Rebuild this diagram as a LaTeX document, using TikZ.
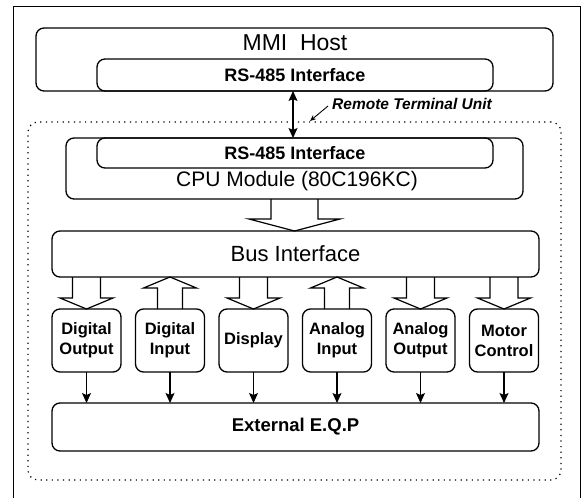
\documentclass[tikz,border=0pt]{standalone}
\usepackage{fontspec}
\setmainfont{Liberation Sans}
\usetikzlibrary{
  positioning,
  arrows.meta,
  calc}
\tikzset{
     block/.style={draw, line width=1.3pt, rounded corners=8pt,
        inner sep=0pt, outer sep=0pt},
     port/.style={font=\fontsize{18}{20}\selectfont\bfseries},
     title/.style={font=\fontsize{22}{25}\selectfont, inner sep=0pt},
     iobox/.style={block, minimum width=69pt, minimum height=63pt, align=center,
        font=\fontsize{16.5}{20}\selectfont\bfseries},
     rtubox/.style={draw, line width=1.2pt, dash pattern=on 1.2pt off 4.4pt,
        rounded corners=10pt, inner sep=0pt},
     frame/.style={draw, line width=0.8pt},
     remote/.style={font=\fontsize{15.5}{18}\selectfont\bfseries\itshape, inner sep=0pt},
     flow/.style={line width=1.1pt, -{Stealth[length=10pt,width=9pt,inset=2pt]}},
     dbl/.style={line width=1.1pt,
        {Stealth[length=10pt,width=9pt,inset=2pt]}-{Stealth[length=10pt,width=9pt,inset=2pt]}},
     pointer/.style={line width=0.9pt, -{Stealth[length=6pt,width=5pt]}},
     fat/.style={draw, line width=1.2pt, line join=miter}
  }
% tail, tip, half shaft width, half head width, head length
\newcommand{\fatarrow}[5]{%
  \draw[fat] let \p1=(#1), \p2=(#2), \p3=($(\p2)!#5!(\p1)$) in
    (\x2-#3,\y1) -- (\x2-#3,\y3) -- (\x2-#4,\y3) -- (\x2,\y2)
    -- (\x2+#4,\y3) -- (\x2+#3,\y3) -- (\x2+#3,\y1);
}

\begin{document}
\begin{tikzpicture}[x=1pt, y=-1pt]
  \useasboundingbox (0,0) rectangle (586,498);
  \draw[frame] (13,498) |- (580,6) -- (580,498);
  \node[rtubox, minimum width=533pt, minimum height=358pt] (rtu) at (294.5,301) {};
%
  \node[block, minimum width=517pt, minimum height=63pt] (host) at (294.5,59.5) {};
  \node[title, font=\fontsize{23}{26}\selectfont] (hostname) at (295,43) {MMI~~Host};
  \node[block, port, minimum width=396pt, minimum height=32pt] (hostport) at (295,75)
    {RS-485 Interface};
  \node[block, minimum width=457pt, minimum height=61pt] (cpu) at (294.5,168.5) {};
  \node[block, port, minimum width=396pt, minimum height=30pt] (cpuport) at (295,153)
    {RS-485 Interface};
  \node[title, font=\fontsize{21}{24}\selectfont] (cpuname) at (297,181) {CPU Module (80C196KC)};
  \node[block, title, minimum width=487pt, minimum height=46pt] (bus) at (295.5,254)
    {Bus Interface};
  \foreach \unit/\txt/\cx in {dout/{Digital\\Output}/86.5, din/{Digital\\Input}/170,
      disp/Display/253.5, ain/{Analog\\Input}/337, aout/{Analog\\Output}/420.5,
      motor/{Motor\\Control}/504}
    \node[iobox] (\unit) at (\cx,340.5) {\txt};
  \node[block, port, font=\fontsize{18.5}{20}\selectfont\bfseries,
    minimum width=487pt, minimum height=48pt] (ext) at (295.5,427) {External E.Q.P};
%
  \node[remote, anchor=west] (rtutext) at (332,104) {Remote Terminal Unit};
  \coordinate (rtuedge) at (310,121);
  \draw[pointer] ([xshift=-4pt,yshift=-2pt]rtutext.west) -- (rtuedge);
  \draw[dbl] ([xshift=-2pt]hostport.south) -- ([xshift=-2pt]cpuport.north);
%
  \fatarrow{cpu.south}{bus.north -| cpu.south}{23.5pt}{45.5pt}{12pt}
  \foreach \unit in {dout,disp,aout,motor}
    {\fatarrow{bus.south -| \unit.north}{\unit.north}{14pt}{26.5pt}{11pt}}
  \foreach \unit in {din,ain}
    {\fatarrow{\unit.north}{bus.south -| \unit.north}{12.5pt}{26.5pt}{11pt}}
  \foreach \unit in {dout,din,disp,ain,aout,motor}
    \draw[flow] (\unit.south) -- (\unit.south |- ext.north);
\end{tikzpicture}
\end{document}
